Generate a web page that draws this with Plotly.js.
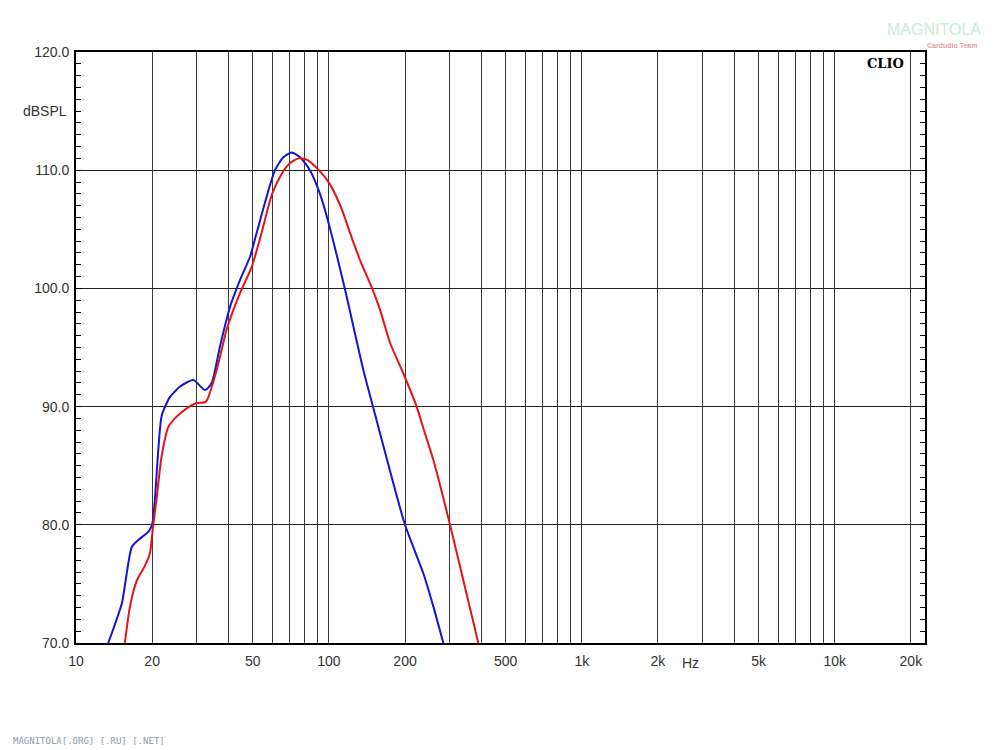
<!DOCTYPE html>
<html>
<head>
<meta charset="utf-8">
<script src="https://cdn.plot.ly/plotly-3.0.1.min.js"></script>
<style>html,body{margin:0;padding:0;background:#fff;}#chart{width:1000px;height:750px;}</style>
</head>
<body>
<div id="chart"></div>
<script>
// Blue curve (frequency Hz, dBSPL)
const blueFreq = [13.4, 14.0, 15.2, 16.6, 17.6, 19.3, 20.0, 20.5, 21.15, 21.8, 23.2, 23.5, 25.8, 29.1, 32.4, 34.4, 37.1, 40.6, 44.5, 48.8, 51.8, 56.8, 61.2, 66.0, 71.3, 76.9, 84.1, 92.2, 99.5, 115.8, 124.9, 136.8, 149.8, 169.3, 199.9, 236.2, 258.7, 283.5];
const blueDb   = [70.0, 71.1, 73.4, 78.1, 78.7, 79.4, 80.0, 82.1, 86.3, 89.2, 90.6, 90.8, 91.7, 92.25, 91.4, 92.0, 95.1, 98.4, 100.7, 102.7, 104.7, 107.8, 110.0, 111.1, 111.5, 111.1, 110.0, 108.0, 105.6, 99.9, 96.8, 93.1, 89.9, 85.6, 80.0, 75.9, 73.1, 70.0];

// Red curve (frequency Hz, dBSPL)
const redFreq = [15.6, 16.35, 17.4, 18.7, 19.6, 20.2, 20.8, 21.8, 23.2, 25.0, 27.4, 30.0, 32.6, 36.0, 39.4, 44.5, 49.5, 54.2, 59.4, 65.1, 70.2, 75.7, 81.7, 92.2, 101, 112.4, 121.2, 132.7, 147.6, 159.2, 174.4, 197, 222.3, 240, 258.7, 301.2, 340, 389.8];
const redDb   = [70.0, 73.1, 75.3, 76.5, 77.6, 80.0, 82.1, 85.8, 88.3, 89.15, 89.85, 90.3, 90.4, 93.1, 96.5, 99.6, 101.8, 104.7, 107.9, 109.7, 110.6, 111.0, 110.9, 109.9, 108.8, 106.7, 104.7, 102.4, 100.1, 98.2, 95.4, 92.8, 90.0, 87.7, 85.5, 80.0, 75.3, 70.0];

// Axis ticks
const xGridVals = [10,20,30,40,50,60,70,80,90,100,200,300,400,500,600,700,800,900,1000,2000,3000,4000,5000,6000,7000,8000,9000,10000,20000];
const xLabelMap = {10:'10',20:'20',50:'50',100:'100',200:'200',500:'500',1000:'1k',2000:'2k',5000:'5k',10000:'10k',20000:'20k'};
const yTickVals = [70,80,90,100,110,120];
const yTickText = ['70.0','80.0','90.0','100.0','110.0','120.0'];

const xTickText = xGridVals.map(v => xLabelMap[v] || '');

const traces = [
  {x: blueFreq, y: blueDb, type: 'scatter', mode: 'lines', line: {color: '#1414d8', width: 2, shape: 'spline', smoothing: 0.6}, hoverinfo: 'skip'},
  {x: redFreq, y: redDb, type: 'scatter', mode: 'lines', line: {color: '#e41414', width: 2, shape: 'spline', smoothing: 0.6}, hoverinfo: 'skip'}
];

const font = {family: 'Liberation Sans, Arial, sans-serif', size: 14, color: '#333'};

const layout = {
  width: 1000, height: 750,
  margin: {l: 76, r: 75, t: 52, b: 107},
  paper_bgcolor: '#fff', plot_bgcolor: '#fff',
  showlegend: false,
  font: font,
  xaxis: {
    type: 'log', range: [1, Math.log10(22750)],
    tickmode: 'array', tickvals: xGridVals, ticktext: xTickText,
    showgrid: true, gridcolor: '#3a3a3a', gridwidth: 1,
    ticks: '', showline: true, linecolor: '#000', linewidth: 2, mirror: true,
    zeroline: false, tickfont: font, ticklabelstandoff: 4
  },
  yaxis: {
    range: [70, 120], tickmode: 'array', tickvals: yTickVals, ticktext: yTickText,
    showgrid: true, gridcolor: '#222', gridwidth: 1,
    ticks: 'inside', ticklen: 5, tickcolor: '#000',
    minor: {dtick: 1, ticks: 'inside', ticklen: 5, tickcolor: '#000', showgrid: false},
    showline: true, linecolor: '#000', linewidth: 2, mirror: 'ticks',
    zeroline: false, tickfont: font, ticklabelstandoff: 2
  },
  annotations: [
    {xref: 'paper', yref: 'paper', x: -0.008, y: 0.90, xanchor: 'right', yanchor: 'middle', text: 'dBSPL', showarrow: false, font: font},
    {xref: 'x', yref: 'paper', x: Math.log10(2700), y: 0, yshift: -20, xanchor: 'center', yanchor: 'middle', text: 'Hz', showarrow: false, font: font},
    {xref: 'paper', yref: 'paper', x: 0.978, y: 0.98, xanchor: 'right', yanchor: 'middle', text: '<b>CLIO</b>', showarrow: false, font: {family: 'DejaVu Serif, Liberation Serif, serif', size: 13, color: '#000'}},
    {xref: 'paper', yref: 'paper', x: 1.068, y: 1, xanchor: 'right', yanchor: 'middle', yshift: 23, text: 'MAGNITOLA', showarrow: false, font: {family: 'Liberation Sans, sans-serif', size: 16, color: '#c8ecd8'}},
    {xref: 'paper', yref: 'paper', x: 1.064, y: 1, xanchor: 'right', yanchor: 'middle', yshift: 7, text: '<b>Cardudio Team</b>', showarrow: false, font: {family: 'Liberation Sans, sans-serif', size: 7, color: '#e49aa4'}},
    {xref: 'paper', yref: 'paper', x: -0.076, y: 0, xanchor: 'left', yanchor: 'middle', yshift: -98, text: 'MAGNITOLA[.ORG] [.RU] [.NET]', showarrow: false, font: {family: 'DejaVu Sans Mono, monospace', size: 9, color: '#8a9aa8'}}
  ]
};

Plotly.newPlot('chart', traces, layout, {staticPlot: true, displayModeBar: false});
</script>
</body>
</html>
